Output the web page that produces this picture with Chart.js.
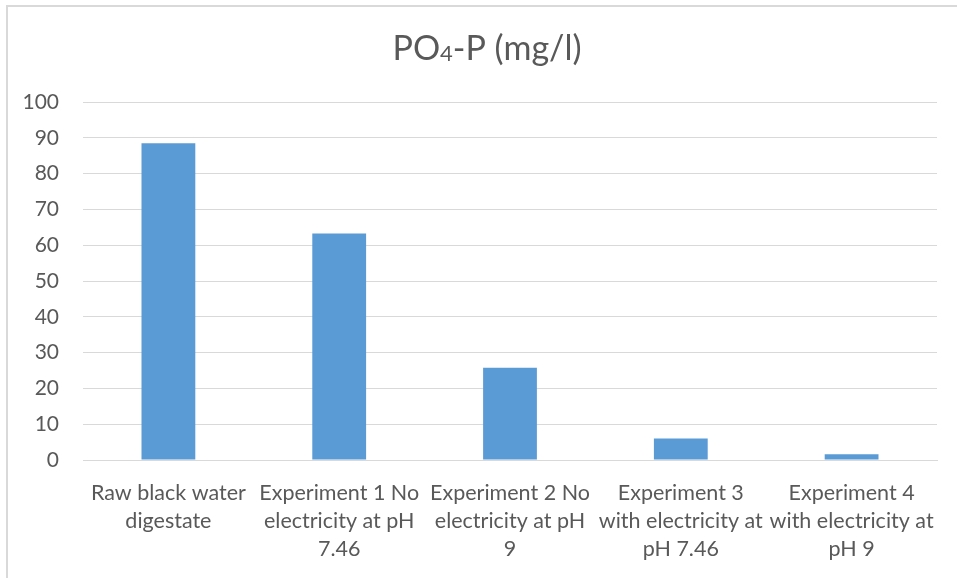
<!DOCTYPE html>
<html>
<head>
<meta charset="utf-8">
<script src="https://cdn.jsdelivr.net/npm/chart.js@4"></script>
<style>
  body { margin: 0; background: #fff; }
  #wrap { position: relative; width: 957px; height: 578px; }
  #frame { position: absolute; left: 6px; top: 5px; right: -4px; bottom: -4px;
           border-left: 2px solid #d9d9d9; border-top: 2px solid #d9d9d9; pointer-events: none; }
</style>
</head>
<body>
<div id="wrap">
  <canvas id="poChart" width="957" height="578"></canvas>
  <div id="frame"></div>
</div>
<script>
const categories = [
  ["Raw black water", "digestate"],
  ["Experiment 1 No", "electricity at pH", "7.46"],
  ["Experiment 2 No", "electricity at pH", "9"],
  ["Experiment 3", "with electricity at", "pH 7.46"],
  ["Experiment 4", "with electricity at", "pH 9"],
];
const po4Values = [88.5, 63.3, 25.8, 6.0, 1.6];
const yTicks = [0, 10, 20, 30, 40, 50, 60, 70, 80, 90, 100];

const textColor = "#595959";
const gridColor = "#d9d9d9";
const fontFamily = "Lato, 'Open Sans', sans-serif";

// title with a small "4" for the subscript
const titlePlugin = {
  id: "poTitle",
  afterDraw(chart) {
    const ctx = chart.ctx;
    const big = "34px " + fontFamily;
    const small = "22px " + fontFamily;
    const parts = [["PO", big, 0], ["4", small, 1], ["-P (mg/l)", big, 0]];
    let total = 0;
    parts.forEach(p => { ctx.font = p[1]; total += ctx.measureText(p[0]).width; });
    let x = 487 - total / 2;
    ctx.save();
    ctx.fillStyle = textColor;
    ctx.textBaseline = "alphabetic";
    ctx.textAlign = "left";
    parts.forEach(p => {
      ctx.font = p[1];
      ctx.fillText(p[0], x, 60 + p[2]);
      x += ctx.measureText(p[0]).width;
    });
    ctx.restore();
  }
};

new Chart(document.getElementById("poChart"), {
  type: "bar",
  data: {
    labels: categories,
    datasets: [{
      label: "PO4-P (mg/l)",
      data: po4Values,
      backgroundColor: "#5b9bd5",
      borderWidth: 0,
      barPercentage: 0.315,
      categoryPercentage: 1,
    }],
  },
  options: {
    responsive: false,
    animation: false,
    layout: { padding: { top: 102, right: 20, left: 0, bottom: 0 } },
    plugins: {
      legend: { display: false },
      tooltip: { enabled: false },
    },
    scales: {
      x: {
        grid: { display: false, drawTicks: false },
        border: { color: gridColor, width: 1 },
        ticks: {
          color: textColor,
          font: { family: fontFamily, size: 21.5, lineHeight: 28 / 21.5 },
          padding: 19,
          autoSkip: false,
          maxRotation: 0,
        },
        afterFit(scale) { scale.height = 118; },
      },
      y: {
        min: 0,
        max: 100,
        afterBuildTicks(scale) { scale.ticks = yTicks.map(v => ({ value: v })); },
        grid: { color: gridColor, lineWidth: 1, drawTicks: false },
        border: { display: false },
        ticks: {
          color: textColor,
          font: { family: fontFamily, size: 21 },
          padding: 24,
        },
        afterFit(scale) { scale.width = 83; },
      },
    },
  },
  plugins: [titlePlugin],
});
</script>
</body>
</html>
